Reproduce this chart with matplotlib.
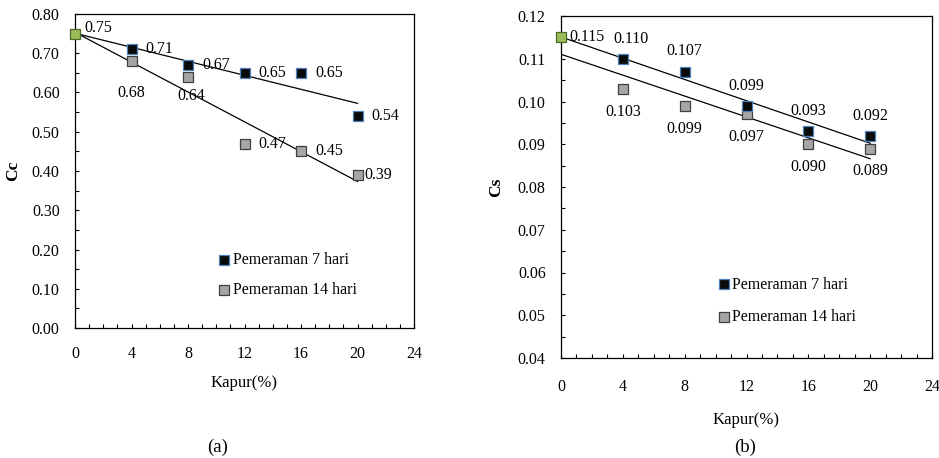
import matplotlib.pyplot as plt
import numpy as np
from matplotlib.ticker import MultipleLocator, FormatStrFormatter

plt.rcParams['font.family'] = ['Liberation Serif', 'DejaVu Serif']
plt.rcParams['font.size'] = 11.5

# data
kapur = [0, 4, 8, 12, 16, 20]
cc_7 = [0.75, 0.71, 0.67, 0.65, 0.65, 0.54]
cc_14 = [0.75, 0.68, 0.64, 0.47, 0.45, 0.39]
cs_7 = [0.115, 0.110, 0.107, 0.099, 0.093, 0.092]
cs_14 = [0.115, 0.103, 0.099, 0.097, 0.090, 0.089]

cc_7_labels = ['0.75', '0.71', '0.67', '0.65', '0.65', '0.54']
cc_14_labels = ['', '0.68', '0.64', '0.47', '0.45', '0.39']
cs_7_labels = ['0.115', '0.110', '0.107', '0.099', '0.093', '0.092']
cs_14_labels = ['', '0.103', '0.099', '0.097', '0.090', '0.089']

legend_names = ['Pemeraman 7 hari', 'Pemeraman 14 hari']

black_face = '#0a0a0a'
blue_edge = '#4f81bd'
grey_face = '#a6a6a6'
grey_edge = '#404040'
green_face = '#9bbb59'
MS = 45


def draw_panel(ax, y7, y14, ylim, ymajor, yminor, xpad):
    x = np.array(kapur)
    # linear trend lines (excel style)
    for y in (y7, y14):
        k, b = np.polyfit(x, y, 1)
        ax.plot([x[0], x[-1]], [b + k * x[0], b + k * x[-1]], color='black', lw=0.9, zorder=2)
    ax.scatter(x[1:], y14[1:], marker='s', s=MS, facecolor=grey_face, edgecolor=grey_edge,
               linewidth=0.9, zorder=3, label=legend_names[1])
    ax.scatter(x[1:], y7[1:], marker='s', s=MS, facecolor=black_face, edgecolor=blue_edge,
               linewidth=0.9, zorder=3, label=legend_names[0])
    ax.scatter([x[0]], [y7[0]], marker='s', s=MS, facecolor=green_face, edgecolor='#4a6a2a',
               linewidth=0.9, zorder=4, clip_on=False)
    ax.set_xlim(0, 24)
    ax.set_ylim(*ylim)
    ax.xaxis.set_major_locator(MultipleLocator(4))
    ax.xaxis.set_minor_locator(MultipleLocator(1))
    ax.yaxis.set_major_locator(MultipleLocator(ymajor))
    ax.yaxis.set_minor_locator(MultipleLocator(yminor))
    ax.yaxis.set_major_formatter(FormatStrFormatter('%.2f'))
    ax.tick_params(which='both', direction='in', length=3, width=0.8, top=False, right=False)
    ax.tick_params(axis='x', pad=xpad)
    ax.tick_params(axis='y', pad=11)
    for sp in ax.spines.values():
        sp.set_linewidth(0.9)


fig = plt.figure(figsize=(9.39, 4.58), dpi=100)
W, H = 939, 458
ax1 = fig.add_axes([75 / W, 1 - 328 / H, (414 - 75) / W, (328 - 14) / H])
ax2 = fig.add_axes([561 / W, 1 - 358 / H, (932 - 561) / W, (358 - 16) / H])

draw_panel(ax1, cc_7, cc_14, (0, 0.80), 0.10, 0.05, 13)
draw_panel(ax2, cs_7, cs_14, (0.04, 0.12), 0.01, 0.005, 15)

ax1.set_xlabel('Kapur(%)', fontsize=12, labelpad=9)
ax2.set_xlabel('Kapur(%)', fontsize=12, labelpad=12)
ax1.set_ylabel('Cc', fontweight='bold', fontsize=12.5, labelpad=8)
ax2.set_ylabel('Cs', fontweight='bold', fontsize=12.5, labelpad=10)

# value labels (a)
ax1.annotate(cc_7_labels[0], (kapur[0], cc_7[0]), xytext=(7, 4), textcoords='offset points',
             va='center', ha='left')
for xi, yi, t in zip(kapur[1:], cc_7[1:], cc_7_labels[1:]):
    ax1.annotate(t, (xi, yi), xytext=(10, 0), textcoords='offset points', va='center', ha='left')
below_dy = {1: -23, 2: -14}
for i, (xi, yi, t) in enumerate(zip(kapur, cc_14, cc_14_labels)):
    if not t:
        continue
    if i in below_dy:
        ax1.annotate(t, (xi, yi), xytext=(2 * (i - 1), below_dy[i]), textcoords='offset points',
                     va='center', ha='center')
    else:
        dx = 5 if i == 5 else 10
        ax1.annotate(t, (xi, yi), xytext=(dx, 0), textcoords='offset points', va='center', ha='left')

# value labels (b)
ax2.annotate(cs_7_labels[0], (kapur[0], cs_7[0]), xytext=(6, 0), textcoords='offset points',
             va='center', ha='left')
for i, (xi, yi, t) in enumerate(zip(kapur[1:], cs_7[1:], cs_7_labels[1:])):
    dx = 6 if i == 0 else 0
    ax2.annotate(t, (xi, yi), xytext=(dx, 14.5), textcoords='offset points', va='center', ha='center')
for xi, yi, t in zip(kapur[1:], cs_14[1:], cs_14_labels[1:]):
    ax2.annotate(t, (xi, yi), xytext=(0, -16.5), textcoords='offset points', va='center', ha='center')

for ax, loc, sp in ((ax1, (0.401, 0.169), 0.9), (ax2, (0.404, 0.167), 1.05)):
    h, l = ax.get_legend_handles_labels()
    ax.legend(h[::-1], l[::-1], loc='center left', bbox_to_anchor=loc, frameon=False,
              handlelength=0.8, handletextpad=0.15, labelspacing=sp, fontsize=11.5,
              borderaxespad=0, scatterpoints=1)

fig.text(218 / W, 1 - 447 / H, '(a)', ha='center', va='center', fontsize=13.5)
fig.text(745 / W, 1 - 447 / H, '(b)', ha='center', va='center', fontsize=13.5)

fig.savefig('out.png', dpi=100)
